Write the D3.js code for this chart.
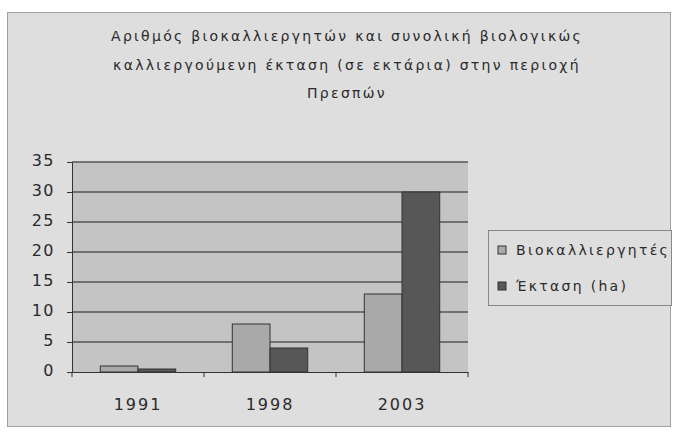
<!DOCTYPE html>
<html>
<head>
    <meta charset="utf-8">
    <title>Chart</title>
    <script src="https://cdn.jsdelivr.net/npm/d3@7"></script>
    <style>
        body { margin: 0; background: #fff; }
        text { font-family: "DejaVu Sans", sans-serif; fill: #2a2a2a; }
    </style>
</head>
<body>
<svg id="drawingplace" width="676" height="437"></svg>
<script>
    // data
    let years = ["1991", "1998", "2003"]
    let farmers = [1, 8, 13]       // Βιοκαλλιεργητές
    let area = [0.5, 4, 30]        // Έκταση (ha)
    let seriesNames = ["Βιοκαλλιεργητές", "Έκταση (ha)"]
    let yTicks = [0, 5, 10, 15, 20, 25, 30, 35]
    let titleLines = [
        "Αριθμός βιοκαλλιεργητών και συνολική βιολογικώς",
        "καλλιεργούμενη έκταση (σε εκτάρια) στην περιοχή",
        "Πρεσπών"
    ]

    let svg = d3.select("#drawingplace")
    let plot = {left: 72, right: 468, top: 162, bottom: 372}
    let colors = ["#a9a9a9", "#575757"]

    // chart area
    svg.append("rect").attr("x", 7.5).attr("y", 12.5).attr("width", 663).attr("height", 414)
        .attr("fill", "#dedede").attr("stroke", "#a0a0a0")

    // title
    svg.selectAll(".title").data(titleLines).enter().append("text")
        .attr("x", 347).attr("y", (d, i) => 41 + i * 28.5)
        .attr("text-anchor", "middle").attr("font-size", 14)
        .attr("letter-spacing", 2.3)
        .text(d => d)

    let x0 = d3.scaleBand().domain(years).range([plot.left, plot.right])
    let x1 = d3.scaleBand().domain([0, 1]).range([0, x0.bandwidth()]).paddingInner(0).paddingOuter(0.75)
    let y = d3.scaleLinear().domain([0, 35]).range([plot.bottom, plot.top])

    // plot area
    svg.append("rect").attr("x", plot.left).attr("y", plot.top)
        .attr("width", plot.right - plot.left).attr("height", plot.bottom - plot.top)
        .attr("fill", "#c4c4c4")

    // gridlines
    svg.selectAll(".grid").data(yTicks.slice(1)).enter().append("line")
        .attr("x1", plot.left).attr("x2", plot.right)
        .attr("y1", d => y(d)).attr("y2", d => y(d))
        .attr("stroke", "#555").attr("stroke-width", 1.3)

    // bars
    let groups = svg.selectAll(".grp").data(years).enter().append("g")
        .attr("transform", d => `translate(${x0(d)},0)`)
    groups.selectAll("rect").data((d, i) => [farmers[i], area[i]]).enter().append("rect")
        .attr("x", (d, j) => x1(j))
        .attr("width", x1.bandwidth())
        .attr("y", d => y(d))
        .attr("height", d => y(0) - y(d))
        .attr("fill", (d, j) => colors[j])
        .attr("stroke", "#333").attr("stroke-width", 1)

    // y axis
    let yAxis = svg.append("g").attr("transform", `translate(${plot.left},0)`)
        .call(d3.axisLeft(y).tickValues(yTicks).tickSize(5).tickSizeOuter(0))
    yAxis.select(".domain").attr("stroke", "#333")
    yAxis.selectAll(".tick line").attr("stroke", "#333")
    yAxis.selectAll("text").attr("font-size", 16).attr("letter-spacing", 1.5)
        .attr("x", -17).attr("dy", "0.2em")

    // x axis
    let xAxis = svg.append("g").attr("transform", `translate(0,${plot.bottom})`)
        .call(d3.axisBottom(x0).tickSize(0).tickSizeOuter(0))
    xAxis.select(".domain").attr("stroke", "#333")
    xAxis.selectAll("text").attr("font-size", 16).attr("letter-spacing", 2)
        .attr("y", 38).attr("dy", 0)
    svg.selectAll(".xt").data(d3.range(years.length + 1)).enter().append("line")
        .attr("x1", i => plot.left + i * x0.step()).attr("x2", i => plot.left + i * x0.step())
        .attr("y1", plot.bottom).attr("y2", plot.bottom + 5).attr("stroke", "#333")

    // legend
    svg.append("rect").attr("x", 488.5).attr("y", 230.5).attr("width", 183).attr("height", 75)
        .attr("fill", "#dedede").attr("stroke", "#888")
    let leg = svg.selectAll(".leg").data(seriesNames).enter().append("g")
        .attr("transform", (d, i) => `translate(498,${250 + i * 36})`)
    leg.append("rect").attr("x", 0).attr("y", -4).attr("width", 8).attr("height", 8)
        .attr("fill", (d, i) => colors[i]).attr("stroke", "#333")
    leg.append("text").attr("x", 18).attr("y", 5).attr("font-size", 14)
        .attr("letter-spacing", 2.3).text(d => d)
</script>
</body>
</html>
